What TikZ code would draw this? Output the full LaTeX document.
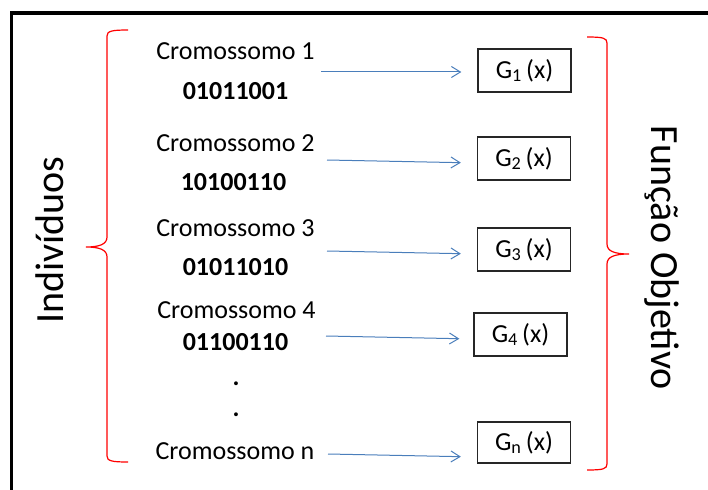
\documentclass[tikz,border=0pt]{standalone}
\usepackage{fontspec}
\setmainfont{Carlito}
\usetikzlibrary{arrows.meta}
\definecolor{linkblue}{HTML}{4A7EBB}
\definecolor{bracered}{HTML}{FF0000}
\begin{document}
\begin{tikzpicture}[x=1pt,y=-1pt,
  lbl/.style={anchor=base, inner sep=0pt, font=\fontsize{26}{31}\selectfont},
  bits/.style={anchor=base, inner sep=0pt, font=\fontsize{26}{31}\selectfont\bfseries},
  gbox/.style={draw=black!85, line width=1.3pt, minimum width=93pt, minimum height=43pt,
    inner sep=0pt, font=\fontsize{26}{31}\selectfont},
  link/.style={draw=linkblue, line width=1pt,
    -{Straight Barb[length=9pt,width=11pt,line width=1pt]}, shorten >=16pt},
  brace/.style={draw=bracered, line width=1.2pt},
  side/.style={anchor=base, inner sep=0pt, font=\fontsize{40}{48}\selectfont}]
\useasboundingbox (0,0) rectangle (708,489);
\clip (0,0) rectangle (708,489);

% outer frame (runs past the right and bottom edges)
\draw[line width=3.5pt] (11.5,520) -- (11.5,13) -- (720,13);

% side titles
\node[side, rotate=90] (ind) at (63,240) {Indivíduos};
\node[side, rotate=-90] (fo) at (651,258) {Função Objetivo};

% braces
\draw[brace] (128,30) .. controls (112,30) and (107,31) .. (107,36)
  -- (107,237) .. controls (107,244) and (100,247) .. (86,247)
  .. controls (100,247) and (107,250) .. (107,257)
  -- (107,456) .. controls (107,461) and (112,462) .. (128,462);
\draw[brace] (587,37) .. controls (603,37) and (607,38) .. (607,43)
  -- (607,244) .. controls (607,251) and (614,254) .. (629,254)
  .. controls (614,254) and (607,257) .. (607,264)
  -- (607,464) .. controls (607,469) and (603,470) .. (587,470);

% chromosomes
\node[lbl] (c1) at (235.5,60) {Cromossomo 1};
\node[bits] (b1) at (235.5,100) {01011001};
\node[lbl] (c2) at (235.5,152) {Cromossomo 2};
\node[bits] (b2) at (233.5,190) {10100110};
\node[lbl] (c3) at (235.5,236) {Cromossomo 3};
\node[bits] (b3) at (235.5,275) {01011010};
\node[lbl] (c4) at (236.5,318) {Cromossomo 4};
\node[bits] (b4) at (235.5,350) {01100110};
\node[bits] (d1) at (236,385) {.};
\node[bits] (d2) at (236,416) {.};
\node[lbl] (cn) at (235,459) {Cromossomo n};

% objective function boxes
\node[gbox] (g1) at (524.5,70.5) {G\textsubscript{1}\,(x)};
\node[gbox] (g2) at (524,158.5) {G\textsubscript{2}\,(x)};
\node[gbox] (g3) at (524,249.5) {G\textsubscript{3}\,(x)};
\node[gbox] (g4) at (520.5,334.5) {G\textsubscript{4}\,(x)};
\node[gbox, minimum height=41pt] (gn) at (524,442.5) {G\textsubscript{n}\,(x)};

% arrow starts
\coordinate (s1) at (321,72);
\coordinate (s2) at (327,160);
\coordinate (s3) at (327,251);
\coordinate (s4) at (326,336);
\coordinate (s5) at (328,454);

\draw[link] (s1) -- ([yshift=-1.5pt]g1.west);
\draw[link] (s2) -- ([yshift=-4.5pt]g2.west);
\draw[link] (s3) -- ([yshift=-4.5pt]g3.west);
\draw[link, shorten >=14pt] (s4) -- ([yshift=-4.5pt]g4.west);
\draw[link] (s5) -- ([yshift=-14.5pt]gn.west);
\end{tikzpicture}
\end{document}
